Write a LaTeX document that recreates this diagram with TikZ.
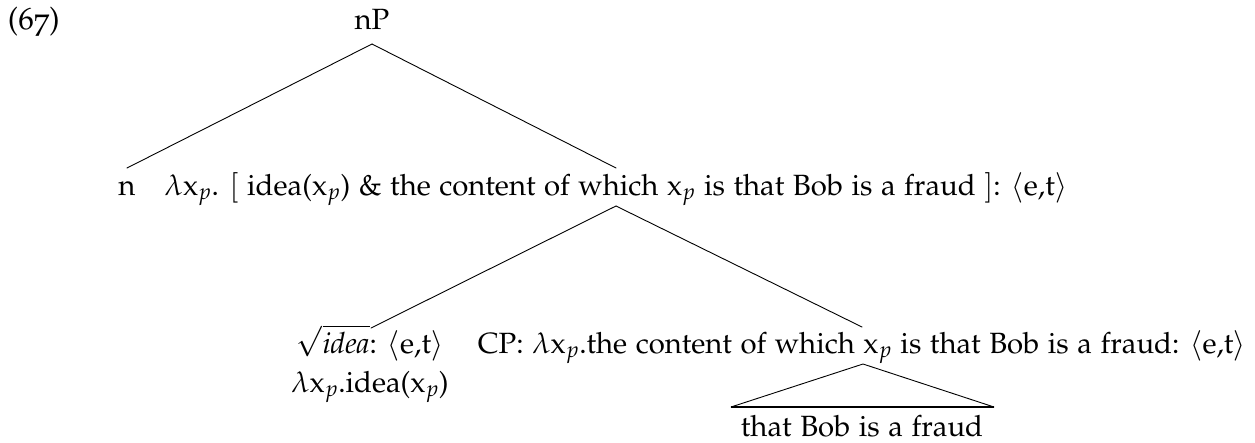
\documentclass[tikz,border=0pt]{standalone}
\usepackage[T1]{fontenc}
\usepackage[osf]{mathpazo}
\begin{document}
\begin{tikzpicture}[x=1pt,y=-1pt,
  every node/.style={inner sep=0pt, outer sep=0pt, font=\fontsize{29.3}{39}\selectfont},
  branch/.style={line width=0.9pt, line cap=round},
  base/.style={line width=2pt}]
\useasboundingbox (0,0) rectangle (1255,442);
% labels
\node[anchor=base west] (ex) at (8,29) {\fontsize{31}{36}\selectfont(67)};
\node[anchor=base] (nP) at (372,29) {nP};
\node[anchor=base] (n) at (127,195) {n};
\node[anchor=base] (pred) at (616,195) {$\lambda$x$_p$. $[$ idea(x$_p$) \& the content of which x$_p$ is that Bob is a fraud $]$: $\langle$e,t$\rangle$};
\node[anchor=base] (root) at (370,353) {$\sqrt{\textit{idea}}$: $\langle$e,t$\rangle$};
\node[anchor=base] (rootsem) at (370,392) {$\lambda$x$_p$.idea(x$_p$)};
\node[anchor=base] (cp) at (862,353) {CP: $\lambda$x$_p$.the content of which x$_p$ is that Bob is a fraud: $\langle$e,t$\rangle$};
\node[anchor=base] (tri) at (862,436) {that Bob is a fraud};
% attachment points
\coordinate (nPbot) at (372,44);
\coordinate (ntop) at (127,168);
\coordinate (predtop) at (616,168);
\coordinate (predbot) at (616,206);
\coordinate (roottop) at (371,328);
\coordinate (cptop) at (862,327);
\coordinate (cpbot) at (863,364);
\coordinate (tril) at (731,407);
\coordinate (trir) at (994,407);
% branches
\draw[branch] (nPbot) -- (ntop);
\draw[branch] (nPbot) -- (predtop);
\draw[branch] (predbot) -- (roottop);
\draw[branch] (predbot) -- (cptop);
\draw[branch] (tril) -- (cpbot) -- (trir);
\draw[base] (tril) -- (trir);
\end{tikzpicture}
\end{document}
